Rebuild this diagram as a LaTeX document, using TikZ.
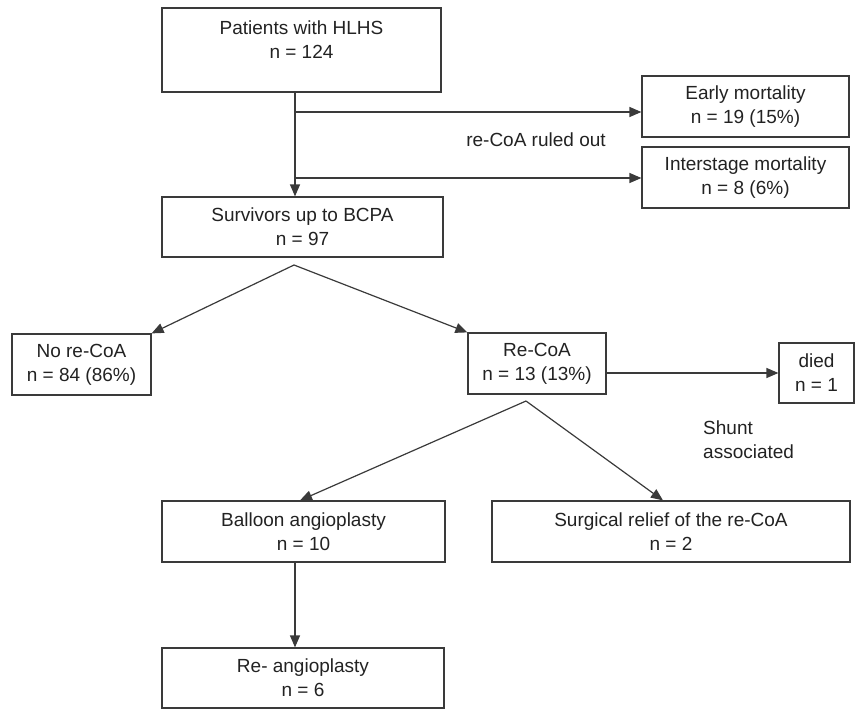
\documentclass[tikz,border=0pt]{standalone}
\usepackage{fontspec}
\setmainfont{Liberation Sans}
\usetikzlibrary{arrows.meta}
\definecolor{linec}{HTML}{3A3A3A}
\definecolor{textc}{HTML}{222222}
\begin{document}
\begin{tikzpicture}[x=1pt,y=-1pt,
  box/.style={draw=linec, line width=1.2pt, inner sep=0pt, align=center,
    text=textc, font=\fontsize{19}{24}\selectfont},
  txt/.style={inner sep=0pt, align=center, text=textc, font=\fontsize{19}{24}\selectfont},
  arr/.style={draw=linec, line width=1.2pt, -{Triangle[length=12pt,width=10pt]}},
  ln/.style={draw=linec, line width=1.2pt}]
\useasboundingbox (0,0) rectangle (856,709);

% boxes
\node[box, minimum width=279pt, minimum height=84pt] (pat) at (301.5,50) {};
\node[txt] (pattxt) at (301.5,40) {Patients with HLHS\\n = 124};
\node[box, minimum width=207pt, minimum height=61pt] (early) at (745.5,106.5) {Early mortality\\n = 19 (15\%)};
\node[box, minimum width=207pt, minimum height=61pt] (inter) at (745.5,177.5) {Interstage mortality\\n = 8 (6\%)};
\node[box, minimum width=281pt, minimum height=60pt] (surv) at (302.5,227) {Survivors up to BCPA\\n = 97};
\node[box, minimum width=139pt, minimum height=61pt] (norecoa) at (81.5,364.5) {No re-CoA\\n = 84 (86\%)};
\node[box, minimum width=138pt, minimum height=61pt] (recoa) at (537,363.5) {Re-CoA\\n = 13 (13\%)};
\node[box, minimum width=75pt, minimum height=60pt] (died) at (816.5,373) {died\\n = 1};
\node[box, minimum width=283pt, minimum height=61pt] (balloon) at (303.5,531.5) {Balloon angioplasty\\n = 10};
\node[box, minimum width=358pt, minimum height=61pt] (surg) at (671,531.5) {Surgical relief of the re-CoA\\n = 2};
\node[box, minimum width=282pt, minimum height=60pt] (reang) at (303,678) {Re- angioplasty\\n = 6};

% free texts
\node[txt] (ruled) at (536,140) {re-CoA ruled out};
\node[txt, align=left, anchor=west] (shunt) at (703,440) {Shunt\\associated};

% connectors
\coordinate (b1) at (295,112);
\coordinate (b2) at (295,178);
\draw[arr] (pat.south -| b1) -- (surv.north -| b1);
\draw[arr] (b1) -- (b1 -| early.west);
\draw[arr] (b2) -- (b2 -| inter.west);

\coordinate (a1) at (294,265);
\draw[arr] (a1) -- (norecoa.north east);
\draw[arr] (a1) -- (recoa.north west);

\draw[arr] (died.west -| recoa.east) -- (died.west);

\coordinate (a2) at (526,401);
\draw[arr] (a2) -- ([xshift=-3.5pt]balloon.north);
\draw[arr] (a2) -- ([xshift=-8pt]surg.north);

\coordinate (v3) at (295,600);
\draw[arr] (balloon.south -| v3) -- (reang.north -| v3);
\end{tikzpicture}
\end{document}
